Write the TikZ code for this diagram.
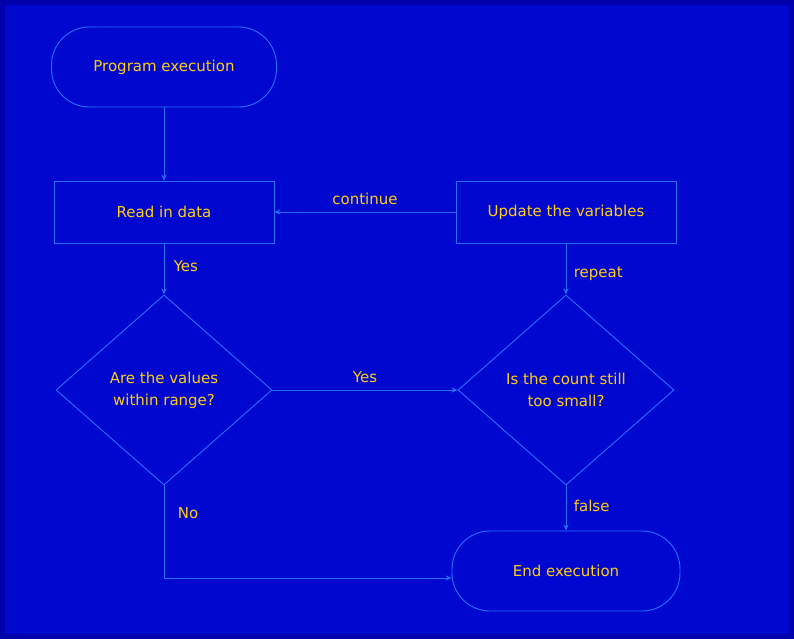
\documentclass[tikz,border=0pt]{standalone}
\usepackage{fontspec}
\setmainfont{DejaVu Sans}
\usetikzlibrary{shapes.geometric,arrows.meta}
\definecolor{bgblue}{RGB}{0,8,208}
\definecolor{edgeblue}{RGB}{0,0,170}
\definecolor{lineblue}{RGB}{40,110,255}
\definecolor{txt}{RGB}{255,205,20}
\tikzset{
  base/.style={draw=lineblue, line width=0.9pt, text=txt, font=\fontsize{15}{22}\selectfont, align=center},
  term/.style={base, rectangle, rounded corners=38pt, minimum width=225pt, minimum height=80pt},
  procbox/.style={base, rectangle, minimum width=220pt, minimum height=62pt},
  decide/.style={base, diamond, minimum width=216pt, minimum height=190pt, inner sep=0pt},
  conn/.style={draw=lineblue, line width=0.9pt, -{Stealth[length=6pt,width=5pt]}},
  lbl/.style={text=txt, font=\fontsize{15}{18}\selectfont}
}
\begin{document}
\begin{tikzpicture}[x=1pt,y=-1pt]
\useasboundingbox (0,0) rectangle (794,639);
\fill[edgeblue] (0,0) rectangle (794,639);
\fill[bgblue] (5,5) rectangle (789,634);

\node[term] (start) at (164,67) {Program execution};
\node[procbox] (p1) at (164,212) {Read in data};
\node[procbox] (p2) at (566,212) {Update the variables};
\node[decide] (d1) at (164,390) {Are the values\\within range?};
\node[decide] (d2) at (566,390) {Is the count still\\too small?};
\node[term, minimum width=228pt] (stop) at (566,571) {End execution};

\coordinate (corner) at (164,578);

\draw[conn] (start) -- (p1);
\draw[conn] (p1) -- node[lbl, pos=0.45, right=6pt] (l1) {Yes} (d1);
\draw[conn] (p2) -- node[lbl, above=4pt] (l2) {continue} (p1);
\draw[conn] (d1.east) -- node[lbl, above=4pt] (l3) {Yes} (d2.west);
\draw[conn] (p2) -- node[lbl, pos=0.6, right=4pt] (l4) {repeat} (d2);
\draw[conn] (d2) -- node[lbl, pos=0.45, right=4pt] (l5) {false} (stop);
\draw[conn] (d1.south) -- node[lbl, pos=0.3, right=10pt] (l6) {No} (corner) -- (stop.west |- corner);
\end{tikzpicture}
\end{document}
